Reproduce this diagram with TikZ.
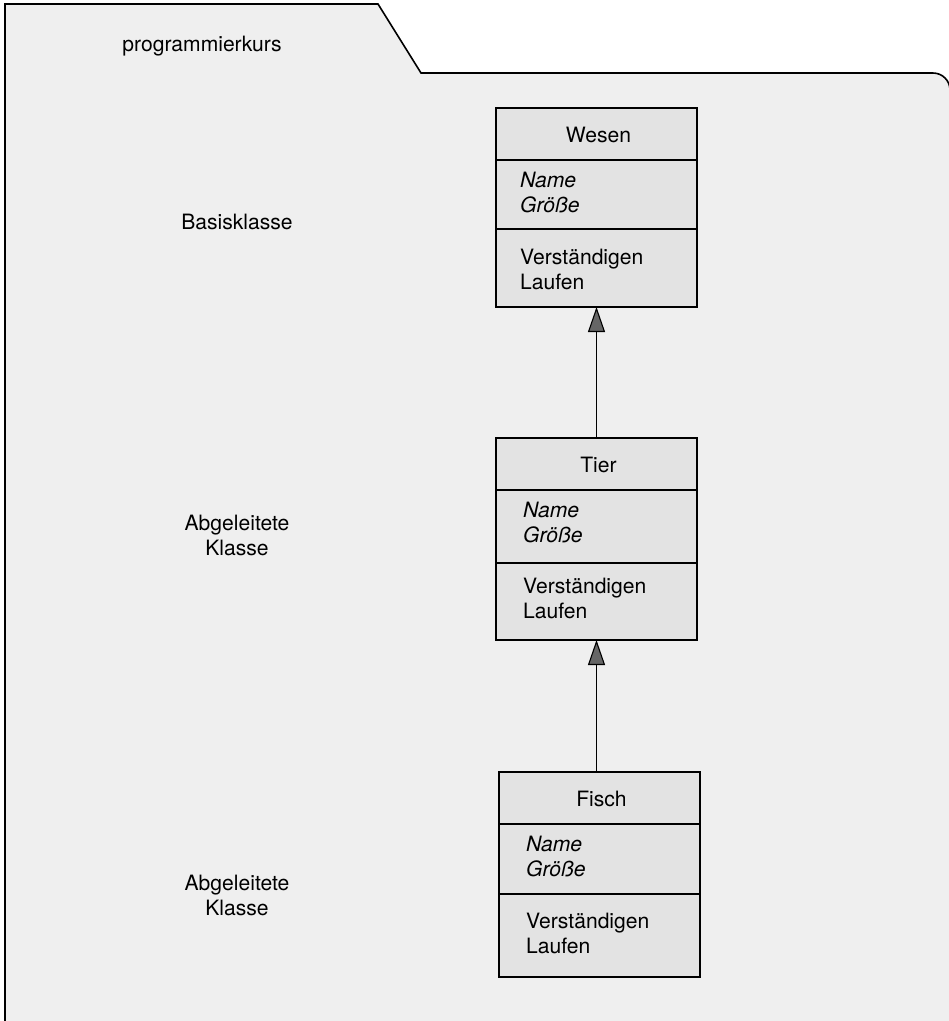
\documentclass[tikz,border=0pt]{standalone}
\usepackage{fontspec}
\setmainfont{TeX Gyre Heros}
\usetikzlibrary{arrows.meta,calc}

\definecolor{pkgfill}{HTML}{EFEFEF}
\definecolor{classfill}{HTML}{E3E3E3}
\definecolor{tipfill}{HTML}{666666}

\tikzset{
  pkgshape/.style={draw=black, line width=1.6pt, fill=pkgfill, rounded corners=0pt},
  classbox/.style={draw=black, line width=1.6pt, fill=classfill, rectangle,
    minimum width=201pt, inner sep=0pt, outer sep=0pt},
  headrule/.style={line width=2.4pt},
  attrrule/.style={line width=1.3pt},
  lbl/.style={inner sep=0pt, font=\fontsize{21.1}{25}\selectfont},
  inherit/.style={line width=1.3pt,
    -{Triangle[width=17pt,length=25pt,fill=tipfill,line width=1.1pt]}},
}

% #1 name, #2 left, #3 top, #4 height, #5 attribute divider offset,
% #6 title, #7 text indent, #8 operations baseline offset below divider
% (two-line nodes are anchored on the baseline of their last line)
\newcommand\umlklasse[8]{%
  \node[classbox, minimum height=#4pt, anchor=north west] (#1) at (#2,#3) {};
  \draw[headrule] ($(#1.north west)+(0,52)$) -- ($(#1.north east)+(0,52)$);
  \draw[attrrule] ($(#1.north west)+(0,#5)$) -- ($(#1.north east)+(0,#5)$);
  \node[lbl, anchor=base] (#1-title) at ($(#1.north)+(2,34)$) {#6};
  \node[lbl, anchor=base west, align=left] (#1-attr) at ($(#1.north west)+(#7,104)$)
    {\itshape Name\\\itshape Größe};
  \node[lbl, anchor=base west, align=left] (#1-ops) at ($(#1.north west)+(#7,#5+#8+25)$)
    {Verständigen\\Laufen};
}

\begin{document}
\begin{tikzpicture}[x=1pt,y=-1pt]
  \useasboundingbox (0,0) rectangle (949,1021);
  \clip (0,0) rectangle (949,1021);
  \fill[white] (0,0) rectangle (949,1021);

  % package frame with its tab
  \draw[pkgshape] (5,1040) -- (5,4) -- (378,4) -- (421,73)
    [rounded corners=17pt] -- (950,73) [rounded corners=0pt] -- (950,1040);
  \node[lbl, anchor=base] (pkgname) at (202,51) {programmierkurs};

  % row labels
  \node[lbl, anchor=base] (basis) at (237,229) {Basisklasse};
  \node[lbl, anchor=base, align=center] (abg1) at (237,555) {Abgeleitete\\Klasse};
  \node[lbl, anchor=base, align=center] (abg2) at (237,915) {Abgeleitete\\Klasse};

  % classes
  \umlklasse{wesen}{496}{108}{199}{121}{Wesen}{24}{35}
  \umlklasse{tier}{496}{438}{202}{125}{Tier}{27}{30}
  \umlklasse{fisch}{499}{772}{205}{122}{Fisch}{27}{34}

  % generalisation arrows
  \draw[inherit] (tier.north) -- (wesen.south);
  \draw[inherit] (fisch.north -| tier.south) -- (tier.south);
\end{tikzpicture}
\end{document}
